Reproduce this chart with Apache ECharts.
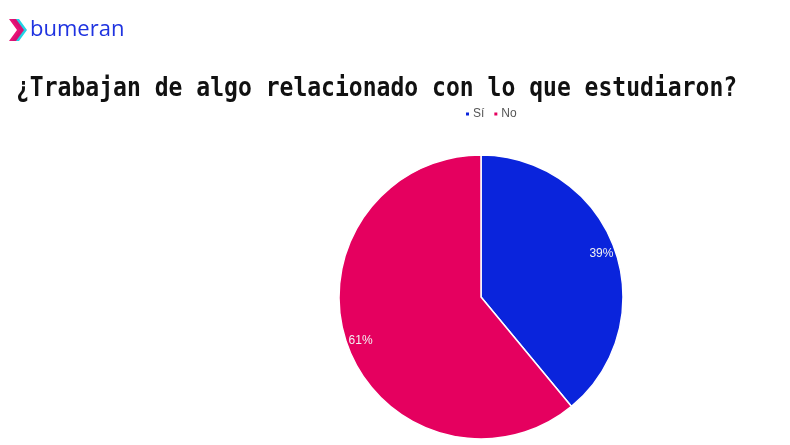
<!DOCTYPE html>
<html><head><meta charset="utf-8">
<script src="https://cdn.jsdelivr.net/npm/echarts@6/dist/echarts.min.js"></script>
<style>html,body{margin:0;padding:0;background:#fff}#c{width:790px;height:445px}</style>
</head><body><div id="c"></div>
<script>
const categories = ['Sí', 'No'];
const values = [39, 61];
const colors = ['#0a24dc', '#e5005f'];
const titleText = '¿Trabajan de algo relacionado con lo que estudiaron?';

const chart = echarts.init(document.getElementById('c'));
const pieData = categories.map((n, i) => ({ name: n, value: values[i], itemStyle: { color: colors[i] } }));
const labelData = categories.map((n, i) => ({ name: n, value: values[i] }));

chart.setOption({
  animation: false,
  backgroundColor: '#fff',
  legend: {
    data: categories,
    left: 459, top: 103,
    itemWidth: 5, itemHeight: 5, itemGap: 8,
    icon: 'rect',
    textStyle: { fontFamily: 'Liberation Sans', fontSize: 12, color: '#555', padding: [0, 0, 0, -2] }
  },
  graphic: [
    { type: 'polygon', shape: { points: [[12,19],[19,19],[27,30],[19,41],[12,41],[20,30]] }, style: { fill: '#22d3e6' } },
    { type: 'polygon', shape: { points: [[9,19],[16,19],[24,30],[16,41],[9,41],[17,30]] }, style: { fill: '#e6006a', opacity: 0.92 } },
    { type: 'text', left: 30, top: 19, style: { text: 'bumeran', font: '500 22px "Open Sans"', fill: '#1f33e0' } },
    { type: 'text', x: 16, y: 89, scaleX: 0.886, scaleY: 1.05, style: { text: titleText, font: 'bold 26px "DejaVu Sans Mono"', fill: '#111', verticalAlign: 'middle', align: 'left' } }
  ],
  series: [
    {
      type: 'pie', center: [481, 297], radius: [0, 142], startAngle: 90, clockwise: true,
      data: pieData, label: { show: false }, labelLine: { show: false },
      itemStyle: { borderColor: '#fff', borderWidth: 1.5 }, silent: true
    },
    {
      type: 'pie', center: [481, 297], radius: [108, 142], startAngle: 90, clockwise: true,
      data: labelData, silent: true,
      itemStyle: { color: 'rgba(0,0,0,0)' },
      label: { show: true, position: 'inside', formatter: '{d}%', fontFamily: 'Liberation Sans', fontSize: 12, color: '#f2f2f2' },
      labelLine: { show: false }
    }
  ]
});
</script></body></html>
